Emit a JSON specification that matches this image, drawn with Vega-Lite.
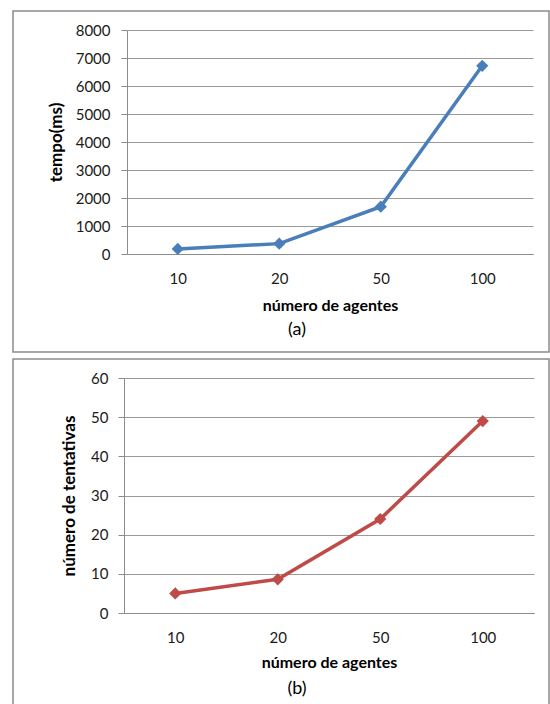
{
  "$schema": "https://vega.github.io/schema/vega-lite/v6.json",
  "background": "white",
  "padding": {"left": 12, "top": 10, "right": 0, "bottom": 0},
  "spacing": 5,
  "config": {
    "view": {"stroke": "#8c8c8c", "strokeWidth": 1.5},
    "font": "Lato",
    "axis": {
      "labelFont": "Lato", "labelFontSize": 15, "labelColor": "#1a1a1a",
      "titleFont": "Lato", "titleFontSize": 16, "titleFontWeight": "bold", "titleColor": "#000",
      "domainColor": "#8c8c8c", "tickColor": "#8c8c8c", "gridColor": "#9a9a9a"
    }
  },
  "vconcat": [
    {
      "width": 536, "height": 341,
      "data": {"values": [
        {"agentes": "10", "tempo": 180},
        {"agentes": "20", "tempo": 370},
        {"agentes": "50", "tempo": 1690},
        {"agentes": "100", "tempo": 6720}
      ]},
      "title": {"text": "(a)", "orient": "bottom", "offset": -31, "anchor": "middle", "frame": "group", "dx": 16, "fontSize": 18, "fontWeight": "normal", "font": "Lato", "color": "#000"},
      "encoding": {
        "x": {"field": "agentes", "type": "ordinal", "sort": ["10", "20", "50", "100"],
          "scale": {"type": "point", "padding": 0.5, "range": [114, 520]},
          "axis": {"orient": "bottom", "offset": -98, "ticks": false, "labelAngle": 0, "labelPadding": 17, "grid": false, "title": "número de agentes", "titlePadding": 11}},
        "y": {"field": "tempo", "type": "quantitative",
          "scale": {"domain": [0, 8000], "range": [243, 19], "nice": false},
          "axis": {"orient": "left", "offset": -114, "values": [0, 1000, 2000, 3000, 4000, 5000, 6000, 7000, 8000], "format": "d", "tickSize": 6, "labelPadding": 11, "grid": true, "title": "tempo(ms)", "titleFontSize": 17, "titleLetterSpacing": 1, "titlePadding": 10}}
      },
      "layer": [
        {"mark": {"type": "line", "color": "#4a7ebb", "strokeWidth": 3.5}},
        {"mark": {"type": "point", "shape": "diamond", "filled": true, "opacity": 1, "color": "#4a7ebb", "size": 150}}
      ]
    },
    {
      "width": 536, "height": 348,
      "data": {"values": [
        {"agentes": "10", "tentativas": 5},
        {"agentes": "20", "tentativas": 8.6},
        {"agentes": "50", "tentativas": 24},
        {"agentes": "100", "tentativas": 49}
      ]},
      "title": {"text": "(b)", "orient": "bottom", "offset": -27, "anchor": "middle", "frame": "group", "dx": 16, "fontSize": 18, "fontWeight": "normal", "font": "Lato", "color": "#000"},
      "encoding": {
        "x": {"field": "agentes", "type": "ordinal", "sort": ["10", "20", "50", "100"],
          "scale": {"type": "point", "padding": 0.5, "range": [111, 521]},
          "axis": {"orient": "bottom", "offset": -94, "ticks": false, "labelAngle": 0, "labelPadding": 17, "grid": false, "title": "número de agentes", "titlePadding": 9}},
        "y": {"field": "tentativas", "type": "quantitative",
          "scale": {"domain": [0, 60], "range": [254, 19], "nice": false},
          "axis": {"orient": "left", "offset": -111, "values": [0, 10, 20, 30, 40, 50, 60], "tickSize": 6, "labelPadding": 10, "grid": true, "title": "número de tentativas", "titleFontSize": 17, "titlePadding": 12}}
      },
      "layer": [
        {"mark": {"type": "line", "color": "#be4b48", "strokeWidth": 3.5}},
        {"mark": {"type": "point", "shape": "diamond", "filled": true, "opacity": 1, "color": "#be4b48", "size": 150}}
      ]
    }
  ]
}
